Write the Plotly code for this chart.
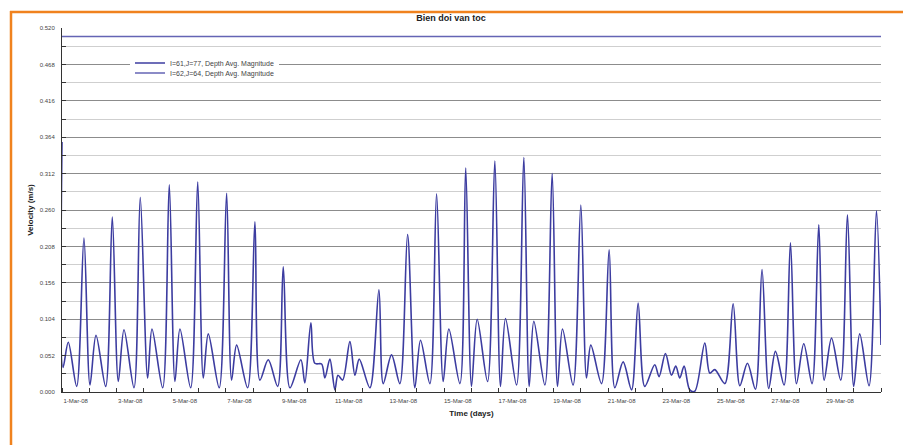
import pandas as pd
import plotly.graph_objects as go

# ---------------- data ----------------
start_date = "2008-03-01"
# hours since 1-Mar-08 00:00
hours = [0.0, 0.9, 5.5, 12.9, 19.3, 24.6, 29.9, 38.4, 44.2, 49.5,
         54.5, 63.3, 68.8, 75.3, 79.1, 88.5, 94.3, 99.3, 103.7, 113.1,
         119.3, 124.2, 128.6, 138.2, 144.7, 149.1, 153.5, 163.2, 169.6, 174.0,
         181.3, 189.6, 194.5, 200.4, 210.0, 213.5, 218.8, 222.3, 228.2, 231.1,
         235.5, 239.9, 242.6, 246.7, 253.1, 257.5, 261.3, 270.7, 278.6, 282.4,
         289.7, 297.0, 303.8, 310.2, 315.2, 323.4, 329.3, 335.1, 340.1, 349.8,
         354.9, 360.0, 365.0, 374.1, 380.5, 385.5, 389.9, 399.6, 406.0, 410.7,
         414.8, 424.5, 430.9, 435.6, 440.0, 449.3, 456.1, 461.1, 464.9, 474.3,
         481.0, 486.0, 493.3, 500.7, 506.5, 512.3, 521.1, 524.9, 530.5, 535.8,
         539.6, 543.1, 546.9, 551.9, 556.3, 565.1, 569.5, 573.9, 582.7, 590.0,
         595.9, 602.6, 609.6, 615.4, 621.3, 627.2, 634.8, 640.4, 645.7, 652.1,
         659.4, 665.3, 670.0, 676.5, 684.6, 690.5, 696.0, 701.3, 709.5, 716.0,
         720.0]
velocity_61_77 = [0.357, 0.035, 0.071, 0.008, 0.220, 0.010, 0.081, 0.008, 0.250, 0.015,
                  0.089, 0.006, 0.278, 0.020, 0.090, 0.006, 0.296, 0.015, 0.090, 0.006,
                  0.300, 0.020, 0.083, 0.006, 0.284, 0.017, 0.067, 0.006, 0.243, 0.017,
                  0.046, 0.008, 0.179, 0.006, 0.046, 0.013, 0.099, 0.041, 0.040, 0.020,
                  0.047, 0.003, 0.024, 0.017, 0.072, 0.024, 0.047, 0.006, 0.146, 0.012,
                  0.053, 0.012, 0.225, 0.006, 0.074, 0.012, 0.283, 0.015, 0.090, 0.012,
                  0.320, 0.008, 0.104, 0.015, 0.330, 0.008, 0.105, 0.010, 0.335, 0.008,
                  0.101, 0.010, 0.312, 0.008, 0.090, 0.010, 0.267, 0.020, 0.067, 0.012,
                  0.203, 0.006, 0.043, 0.003, 0.127, 0.008, 0.039, 0.022, 0.055, 0.024,
                  0.037, 0.020, 0.037, 0.003, 0.001, 0.070, 0.027, 0.032, 0.012, 0.126,
                  0.009, 0.041, 0.004, 0.175, 0.005, 0.058, 0.010, 0.213, 0.012, 0.069,
                  0.012, 0.239, 0.017, 0.077, 0.017, 0.253, 0.008, 0.083, 0.009, 0.259,
                  0.067]
hours_62_64 = [0.0, 720.0]
velocity_62_64 = [0.508, 0.508]

series_names = ["I=61,J=77, Depth Avg. Magnitude", "I=62,J=64, Depth Avg. Magnitude"]
label_days = list(range(1, 30, 2))
y_ticks = [0.000, 0.052, 0.104, 0.156, 0.208, 0.260, 0.312, 0.364, 0.416, 0.468, 0.520]

# ---------------- build ----------------
t0 = pd.Timestamp(start_date)
x1 = [t0 + pd.Timedelta(hours=h) for h in hours]
x2 = [t0 + pd.Timedelta(hours=h) for h in hours_62_64]

tick_vals = [t0 + pd.Timedelta(days=d - 1, hours=12) for d in label_days]
tick_text = [f"{d}-Mar-08" for d in label_days]
minor_vals = [t0 + pd.Timedelta(days=d) for d in range(0, 31)]

FONT = "Liberation Sans, Arial, sans-serif"

W, H = 903, 445
ml, mr, mt, mb = 62, 22, 28, 53
pw, ph = W - ml - mr, H - mt - mb

def px_x(px):
    return (px - ml) / pw

def px_y(py):
    return (H - mb - py) / ph

fig = go.Figure()
fig.add_trace(go.Scatter(x=x1, y=velocity_61_77, mode="lines", name=series_names[0],
                         legend="legend",
                         line=dict(color="#3c3ca0", width=1.6, shape="spline", smoothing=0.9)))
fig.add_trace(go.Scatter(x=x2, y=velocity_62_64, mode="lines", name=series_names[1],
                         legend="legend2",
                         line=dict(color="#6464b4", width=1.5)))

legend_common = dict(xanchor="left", yanchor="middle", font=dict(size=7, color="#444444"),
                     itemwidth=30, borderwidth=0)

fig.update_layout(
    width=W, height=H,
    margin=dict(l=ml, r=mr, t=mt, b=mb),
    paper_bgcolor="white", plot_bgcolor="white",
    font=dict(family=FONT, size=7, color="#333333"),
    title=dict(text="<b>Bien doi van toc</b>", x=px_x(471), xanchor="center",
               y=1 - 18 / H, yanchor="middle", font=dict(size=9, color="#222222")),
    showlegend=True,
    legend=dict(x=px_x(130), y=px_y(63), bgcolor="white", **legend_common),
    legend2=dict(x=px_x(130), y=px_y(73), bgcolor="rgba(0,0,0,0)", **legend_common),
    xaxis=dict(
        range=[t0, t0 + pd.Timedelta(days=30)],
        tickmode="array", tickvals=tick_vals, ticktext=tick_text, ticks="",
        tickfont=dict(size=6, color="#444444"), ticklabelstandoff=3,
        showgrid=False, showline=True, linecolor="#333333", linewidth=1,
        zeroline=False,
        minor=dict(tickmode="array", tickvals=minor_vals, ticks="inside",
                   ticklen=4, tickcolor="#333333", showgrid=False),
        title=dict(text="<b>Time (days)</b>", font=dict(size=8, color="#222222"), standoff=7),
    ),
    yaxis=dict(
        range=[0, 0.52],
        tickmode="array", tickvals=y_ticks, tickformat=".3f",
        ticks="inside", ticklen=4, tickcolor="#333333",
        tickfont=dict(size=6, color="#444444"), ticklabelstandoff=5,
        showgrid=True, gridcolor="#8c8c8c", gridwidth=1,
        showline=True, linecolor="#333333", linewidth=1, zeroline=False,
        minor=dict(tickmode="linear", tick0=0.026, dtick=0.052, ticks="inside",
                   ticklen=4, tickcolor="#333333", showgrid=True,
                   gridcolor="#cfcfcf", gridwidth=1),
        title=dict(text="<b>Velocity (m/s)</b>", font=dict(size=8, color="#222222"), standoff=4),
    ),
    shapes=[
        dict(type="line", xref="paper", yref="paper",
             x0=px_x(11), x1=px_x(11), y0=px_y(11), y1=px_y(H + 2),
             line=dict(color="#f0821e", width=2.5)),
        dict(type="line", xref="paper", yref="paper",
             x0=px_x(10), x1=px_x(W + 2), y0=px_y(12), y1=px_y(12),
             line=dict(color="#f0821e", width=2.5)),
    ],
)

fig.write_html("out.html")
